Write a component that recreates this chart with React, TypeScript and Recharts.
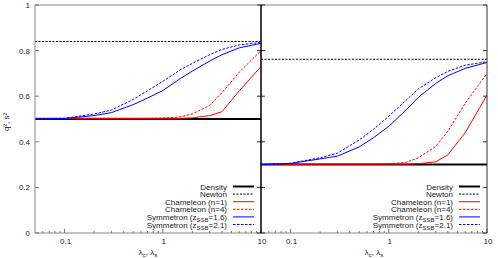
import React from 'react';
import { LineChart, Line, XAxis, YAxis, ReferenceLine } from 'recharts';

// ---------- data ----------
const lambdaGrid = [0.05, 0.1, 0.2, 0.3, 0.5, 0.7, 1, 1.5, 2, 3, 4, 6, 10];
const flatRange = [0.05, 10];

const leftDensity = [0.5, 0.5];
const leftNewton = [0.84, 0.84];
const leftCham1 = [0.503, 0.503, 0.503, 0.503, 0.503, 0.503, 0.503, 0.503, 0.505, 0.515, 0.532, 0.623, 0.73];
const leftCham4 = [0.503, 0.503, 0.503, 0.503, 0.503, 0.503, 0.504, 0.509, 0.522, 0.56, 0.615, 0.705, 0.8];
const leftSym16 = [0.5, 0.502, 0.515, 0.528, 0.563, 0.592, 0.625, 0.677, 0.71, 0.754, 0.782, 0.812, 0.832];
const leftSym21 = [0.5, 0.503, 0.522, 0.539, 0.586, 0.624, 0.665, 0.715, 0.744, 0.782, 0.805, 0.825, 0.836];

const rightDensity = [0.3, 0.3];
const rightNewton = [0.762, 0.762];
const rightCham1 = [0.302, 0.302, 0.302, 0.302, 0.302, 0.302, 0.302, 0.302, 0.304, 0.312, 0.343, 0.44, 0.605];
const rightCham4 = [0.302, 0.302, 0.302, 0.302, 0.302, 0.302, 0.303, 0.31, 0.33, 0.379, 0.447, 0.569, 0.7];
const rightSym16 = [0.3, 0.305, 0.325, 0.337, 0.378, 0.418, 0.468, 0.54, 0.595, 0.656, 0.69, 0.722, 0.748];
const rightSym21 = [0.3, 0.306, 0.33, 0.35, 0.408, 0.455, 0.512, 0.582, 0.632, 0.681, 0.709, 0.736, 0.751];

const xMajorTicks = [0.1, 1, 10];
const xMajorLabels = ['0.1', '1', '10'];
const xMinorTicks = [0.06, 0.07, 0.08, 0.09, 0.2, 0.3, 0.4, 0.5, 0.6, 0.7, 0.8, 0.9, 2, 3, 4, 5, 6, 7, 8, 9];
const yTicks = [0, 0.2, 0.4, 0.6, 0.8, 1];
const yTickLabels = ['0', '0.2', '0.4', '0.6', '0.8', '1'];
const legendNames = [
  'Density',
  'Newton',
  'Chameleon (n=1)',
  'Chameleon (n=4)',
  'Symmetron (zSSB=1.6)',
  'Symmetron (zSSB=2.1)',
];

// ---------- layout & styles ----------
const FONT = '"Liberation Sans", Arial, Helvetica, sans-serif';
const PLOT_TOP = 5;
const PLOT_BOTTOM = 233;
const LEFT_PLOT_RIGHT = 261;
const RIGHT_PLOT_RIGHT = 487;
const seriesStyles = [
  { stroke: '#000000', width: 2, dash: undefined as string | undefined },
  { stroke: '#000000', width: 1, dash: '2 1.5' },
  { stroke: '#ff0000', width: 1, dash: undefined },
  { stroke: '#ff0000', width: 1, dash: '2.5 1.5' },
  { stroke: '#0000ff', width: 1, dash: undefined },
  { stroke: '#0000ff', width: 1, dash: '2.5 1.5' },
];

const allXTicks = [...xMinorTicks, ...xMajorTicks].sort((a, b) => a - b);

const toPts = (xs: number[], ys: number[]) => xs.map((x, i) => ({ x, y: ys[i] }));

const makeXTick = (color: string) => (props: any) => {
  const { x, y, payload } = props;
  const v = Number(payload.value);
  const idx = xMajorTicks.findIndex((t) => Math.abs(t - v) < 1e-9);
  const major = idx >= 0;
  return (
    <g>
      <line x1={x} x2={x} y1={y} y2={Number(y) - (major ? 4 : 2)} stroke={color} strokeWidth={1} />
      {major ? (
        <text x={Number(x) + 1} y={Number(y) + 11} textAnchor="middle" fontSize={8} fill="#222" fontFamily={FONT}>
          {xMajorLabels[idx]}
        </text>
      ) : null}
    </g>
  );
};

// left inward tick (with optional label) and mirrored inward tick on the right border
const makeYTick = (showLabels: boolean, leftColor: string, rightColor: string, plotWidth: number) => (props: any) => {
  const { x, y, payload } = props;
  const idx = yTicks.findIndex((t) => Math.abs(t - Number(payload.value)) < 1e-9);
  const xr = Number(x) + plotWidth;
  return (
    <g>
      <line x1={x} x2={Number(x) + 4} y1={y} y2={y} stroke={leftColor} strokeWidth={1} />
      <line x1={xr} x2={xr - 4} y1={y} y2={y} stroke={rightColor} strokeWidth={1} />
      {showLabels ? (
        <text x={Number(x) - 5} y={Number(y) + 3} textAnchor="end" fontSize={8} fill="#222" fontFamily={FONT}>
          {yTickLabels[idx]}
        </text>
      ) : null}
    </g>
  );
};

type PanelProps = {
  density: number[];
  newton: number[];
  cham1: number[];
  cham4: number[];
  sym16: number[];
  sym21: number[];
  width: number;
  yAxisWidth: number;
  marginRight: number;
  showYLabels: boolean;
  leftColor: string;
};

function Panel(p: PanelProps) {
  const series = [
    toPts(flatRange, p.density),
    toPts(flatRange, p.newton),
    toPts(lambdaGrid, p.cham1),
    toPts(lambdaGrid, p.cham4),
    toPts(lambdaGrid, p.sym16),
    toPts(lambdaGrid, p.sym21),
  ];
  const plotWidth = p.width - p.yAxisWidth - p.marginRight;
  return (
    <LineChart width={p.width} height={258} margin={{ top: 5, right: p.marginRight, bottom: 0, left: 0 }}>
      <XAxis
        dataKey="x"
        type="number"
        scale="log"
        domain={[0.05, 10]}
        allowDataOverflow
        ticks={allXTicks}
        interval={0}
        height={25}
        tickSize={0}
        tickMargin={0}
        tickLine={false}
        axisLine={{ stroke: '#888', strokeWidth: 1 }}
        tick={makeXTick('#777')}
      />
      <YAxis
        type="number"
        domain={[0, 1]}
        ticks={yTicks}
        interval={0}
        width={p.yAxisWidth}
        tickSize={0}
        tickMargin={0}
        tickLine={false}
        axisLine={{ stroke: p.leftColor, strokeWidth: 1 }}
        tick={makeYTick(p.showYLabels, p.leftColor === '#000' ? '#222' : '#777', '#333', plotWidth)}
      />
      <ReferenceLine y={1} stroke="#888" strokeWidth={1} ifOverflow="visible" />
      {series.map((pts, i) => (
        <Line
          key={i}
          data={pts}
          dataKey="y"
          type="linear"
          stroke={seriesStyles[i].stroke}
          strokeWidth={seriesStyles[i].width}
          strokeDasharray={seriesStyles[i].dash}
          dot={false}
          activeDot={false}
          isAnimationActive={false}
        />
      ))}
    </LineChart>
  );
}

const renderName = (s: string) => {
  const i = s.indexOf('SSB');
  if (i < 0) return s;
  return (
    <>
      {s.slice(0, i)}
      <tspan dy={2} fontSize={6}>SSB</tspan>
      <tspan dy={-2}>{s.slice(i + 3)}</tspan>
    </>
  );
};

function LegendBox({ plotRight }: { plotRight: number }) {
  return (
    <g>
      {legendNames.map((name, i) => {
        const yy = 186.5 + i * 7.6;
        const st = seriesStyles[i];
        return (
          <g key={i}>
            <text x={plotRight - 34} y={yy + 3} textAnchor="end" fontSize={8} fill="#222" fontFamily={FONT}>
              {renderName(name)}
            </text>
            <line
              x1={plotRight - 28}
              x2={plotRight - 7}
              y1={yy}
              y2={yy}
              stroke={st.stroke}
              strokeWidth={st.width}
              strokeDasharray={st.dash}
            />
          </g>
        );
      })}
    </g>
  );
}

const XLabel = ({ cx }: { cx: number }) => (
  <text x={cx} y={255} textAnchor="middle" fontSize={8} fill="#222" fontFamily={FONT}>
    λ<tspan dy={2} fontSize={6}>c</tspan>
    <tspan dy={-2}>, λ</tspan>
    <tspan dy={2} fontSize={6}>s</tspan>
  </text>
);

export default function App() {
  return (
    <div style={{ position: 'absolute', left: 0, top: 0, width: 498, height: 258, background: '#fff', overflow: 'hidden' }}>
      <div style={{ position: 'absolute', left: 0, top: 0 }}>
        <Panel
          density={leftDensity}
          newton={leftNewton}
          cham1={leftCham1}
          cham4={leftCham4}
          sym16={leftSym16}
          sym21={leftSym21}
          width={275}
          yAxisWidth={35}
          marginRight={14}
          showYLabels={true}
          leftColor="#888"
        />
      </div>
      <div style={{ position: 'absolute', left: 260, top: 0 }}>
        <Panel
          density={rightDensity}
          newton={rightNewton}
          cham1={rightCham1}
          cham4={rightCham4}
          sym16={rightSym16}
          sym21={rightSym21}
          width={238}
          yAxisWidth={1}
          marginRight={11}
          showYLabels={false}
          leftColor="#000"
        />
      </div>
      <svg width={498} height={258} style={{ position: 'absolute', left: 0, top: 0, pointerEvents: 'none' }}>
        {/* panel frame borders */}
        <line x1={LEFT_PLOT_RIGHT} x2={LEFT_PLOT_RIGHT} y1={PLOT_TOP} y2={PLOT_BOTTOM} stroke="#000" strokeWidth={1} />
        <line x1={RIGHT_PLOT_RIGHT} x2={RIGHT_PLOT_RIGHT} y1={PLOT_TOP} y2={PLOT_BOTTOM} stroke="#333" strokeWidth={1} />
        <LegendBox plotRight={LEFT_PLOT_RIGHT} />
        <LegendBox plotRight={RIGHT_PLOT_RIGHT} />
        <XLabel cx={148} />
        <XLabel cx={374} />
        <text
          x={0}
          y={0}
          transform="translate(9,122) rotate(-90)"
          textAnchor="middle"
          fontSize={8}
          fill="#222"
          fontFamily={FONT}
        >
          q², s²
        </text>
      </svg>
    </div>
  );
}
